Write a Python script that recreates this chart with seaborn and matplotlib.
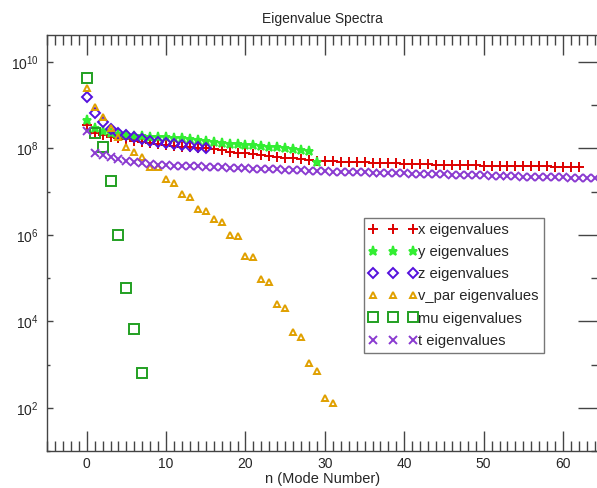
import numpy as np
import matplotlib
matplotlib.use('Agg')
import matplotlib.pyplot as plt
import matplotlib.ticker as mticker
import seaborn as sns

# valeurs (echelle log)
x_vals = [3.4e8, 2.3e8, 2.0e8, 1.86e8, 1.74e8, 1.62e8, 1.51e8, 1.41e8, 1.32e8, 1.26e8,
          1.20e8, 1.15e8, 1.10e8, 1.05e8, 1.02e8, 1.0e8, 9.5e7, 8.9e7, 8.3e7, 7.9e7,
          7.6e7, 7.2e7, 6.9e7, 6.6e7, 6.3e7, 6.0e7, 5.9e7, 5.6e7, 5.5e7, 5.2e7,
          5.1e7, 5.0e7, 4.9e7, 4.8e7, 4.8e7, 4.7e7, 4.6e7, 4.6e7, 4.5e7, 4.5e7,
          4.4e7, 4.4e7, 4.3e7, 4.3e7, 4.2e7, 4.2e7, 4.2e7, 4.1e7, 4.1e7, 4.1e7,
          4.0e7, 4.0e7, 4.0e7, 3.9e7, 3.9e7, 3.9e7, 3.8e7, 3.8e7, 3.8e7, 3.7e7,
          3.7e7, 3.7e7, 3.6e7]
y_vals = [4.5e8, 2.9e8, 2.5e8, 2.2e8, 2.1e8, 2.0e8, 1.95e8, 1.9e8, 1.86e8, 1.82e8,
          1.78e8, 1.74e8, 1.70e8, 1.62e8, 1.55e8, 1.48e8, 1.41e8, 1.35e8, 1.29e8, 1.26e8,
          1.20e8, 1.17e8, 1.12e8, 1.10e8, 1.05e8, 1.0e8, 9.5e7, 9.1e7, 8.7e7, 4.8e7]
z_vals = [1.5e9, 6.5e8, 4.0e8, 2.8e8, 2.3e8, 2.0e8, 1.8e8, 1.6e8, 1.5e8, 1.4e8,
          1.3e8, 1.23e8, 1.17e8, 1.12e8, 1.07e8, 1.02e8]
vpar_vals = [2.5e9, 8.9e8, 5.2e8, 2.9e8, 1.8e8, 1.1e8, 8.1e7, 6.2e7, 3.7e7, 3.6e7,
             1.9e7, 1.6e7, 8.7e6, 7.4e6, 3.9e6, 3.6e6, 2.3e6, 2.0e6, 1.0e6, 9.5e5,
             3.3e5, 3.0e5, 9.3e4, 8.3e4, 2.5e4, 2.0e4, 5.5e3, 4.3e3, 1.1e3, 6.9e2,
             1.7e2, 1.3e2]
mu_vals = [4.2e9, 2.2e8, 1.1e8, 1.8e7, 9.8e5, 5.8e4, 6.5e3, 6.2e2]
t_vals = [2.5e8, 7.9e7, 7.1e7, 6.3e7, 5.8e7, 5.2e7, 4.9e7, 4.6e7, 4.4e7, 4.2e7,
          4.1e7, 4.0e7, 3.9e7, 3.85e7, 3.8e7, 3.7e7, 3.65e7, 3.6e7, 3.55e7, 3.5e7,
          3.45e7, 3.4e7, 3.35e7, 3.3e7, 3.25e7, 3.2e7, 3.15e7, 3.1e7, 3.05e7, 3.0e7,
          2.95e7, 2.9e7, 2.87e7, 2.84e7, 2.81e7, 2.78e7, 2.75e7, 2.72e7, 2.69e7, 2.66e7,
          2.63e7, 2.6e7, 2.57e7, 2.54e7, 2.51e7, 2.48e7, 2.45e7, 2.42e7, 2.4e7, 2.37e7,
          2.35e7, 2.32e7, 2.3e7, 2.27e7, 2.25e7, 2.22e7, 2.2e7, 2.18e7, 2.16e7, 2.14e7,
          2.12e7, 2.1e7, 2.08e7, 2.06e7, 2.04e7]

series = [
    ('x eigenvalues', x_vals, '+', '#dd0000', True, 7),
    ('y eigenvalues', y_vals, '*', '#33ee33', True, 6.5),
    ('z eigenvalues', z_vals, 'D', '#5511dd', False, 5),
    ('v_par eigenvalues', vpar_vals, '^', '#e0a000', False, 4.5),
    ('mu eigenvalues', mu_vals, 's', '#22a022', False, 6.5),
    ('t eigenvalues', t_vals, 'x', '#8a3ad0', True, 5.5),
]

sns.set_style('ticks')
plt.rcParams['font.family'] = ['Liberation Sans', 'DejaVu Sans']
plt.rcParams['mathtext.fontset'] = 'custom'
plt.rcParams['mathtext.rm'] = 'Liberation Sans'

fig = plt.figure(figsize=(5.97, 4.88), dpi=100)
ax = fig.add_axes([47 / 597, 1 - 451 / 488, 551 / 597, 416 / 488])

for label, vals, mk, col, line_art, ms in series:
    n = np.arange(len(vals))
    sns.lineplot(x=n, y=vals, ax=ax, label=label, linestyle='none', marker=mk,
                 markersize=ms, color=col, markeredgecolor=col,
                 markerfacecolor=col if line_art else 'none',
                 markeredgewidth=1.4)

ax.set_yscale('log')
ax.set_xlim(-5, 64.4)
ax.set_ylim(10 ** 1.0, 10 ** 10.62)

ax.xaxis.set_major_locator(mticker.MultipleLocator(10))
ax.xaxis.set_minor_locator(mticker.MultipleLocator(1))
ax.set_yticks([10.0 ** k for k in range(2, 11, 2)])
ax.set_yticks([10.0 ** k for k in range(1, 11, 2)], minor=True)
ax.yaxis.set_major_formatter(mticker.FuncFormatter(lambda v, p: r'$10^{%d}$' % round(np.log10(v))))
ax.yaxis.set_minor_formatter(mticker.NullFormatter())

edge = '#444444'
for s in ax.spines.values():
    s.set_color(edge)
    s.set_linewidth(1.0)

ax.tick_params(axis='x', which='major', direction='in', length=14.5, width=1.0,
               top=True, bottom=True, color=edge, labelsize=10, pad=4)
ax.tick_params(axis='x', which='minor', direction='in', length=7, width=1.0,
               top=True, bottom=True, color=edge)
ax.tick_params(axis='y', which='major', direction='in', length=4.5, width=1.0,
               left=True, right=False, color=edge, labelsize=10, pad=6)
ax.tick_params(axis='y', which='minor', direction='in', length=2.5, width=1.0,
               left=True, right=False, color=edge)

# graduations de droite plus longues
ax2 = ax.twinx()
ax2.set_yscale('log')
ax2.set_ylim(ax.get_ylim())
ax2.set_yticks([10.0 ** k for k in range(2, 11, 2)])
ax2.set_yticks([10.0 ** k for k in range(1, 11, 2)], minor=True)
ax2.yaxis.set_major_formatter(mticker.NullFormatter())
ax2.yaxis.set_minor_formatter(mticker.NullFormatter())
ax2.tick_params(axis='y', which='major', direction='in', length=14.5, width=1.0, color=edge)
ax2.tick_params(axis='y', which='minor', direction='in', length=5, width=1.0, color=edge)
for s in ax2.spines.values():
    s.set_visible(False)

ax.set_title('Eigenvalue Spectra', fontsize=10, pad=9)
ax.set_xlabel('n (Mode Number)', fontsize=10.5, labelpad=1)
ax.set_ylabel('')

leg = ax.legend(loc='upper left', bbox_to_anchor=(0.575, 0.56), borderaxespad=0,
                numpoints=3, handlelength=3.3, handletextpad=0.05, fontsize=10.6,
                labelspacing=0.55, borderpad=0.35, fancybox=False, framealpha=1,
                edgecolor='#777777')
leg.get_frame().set_linewidth(1.0)

fig.savefig('out.png', dpi=100)
